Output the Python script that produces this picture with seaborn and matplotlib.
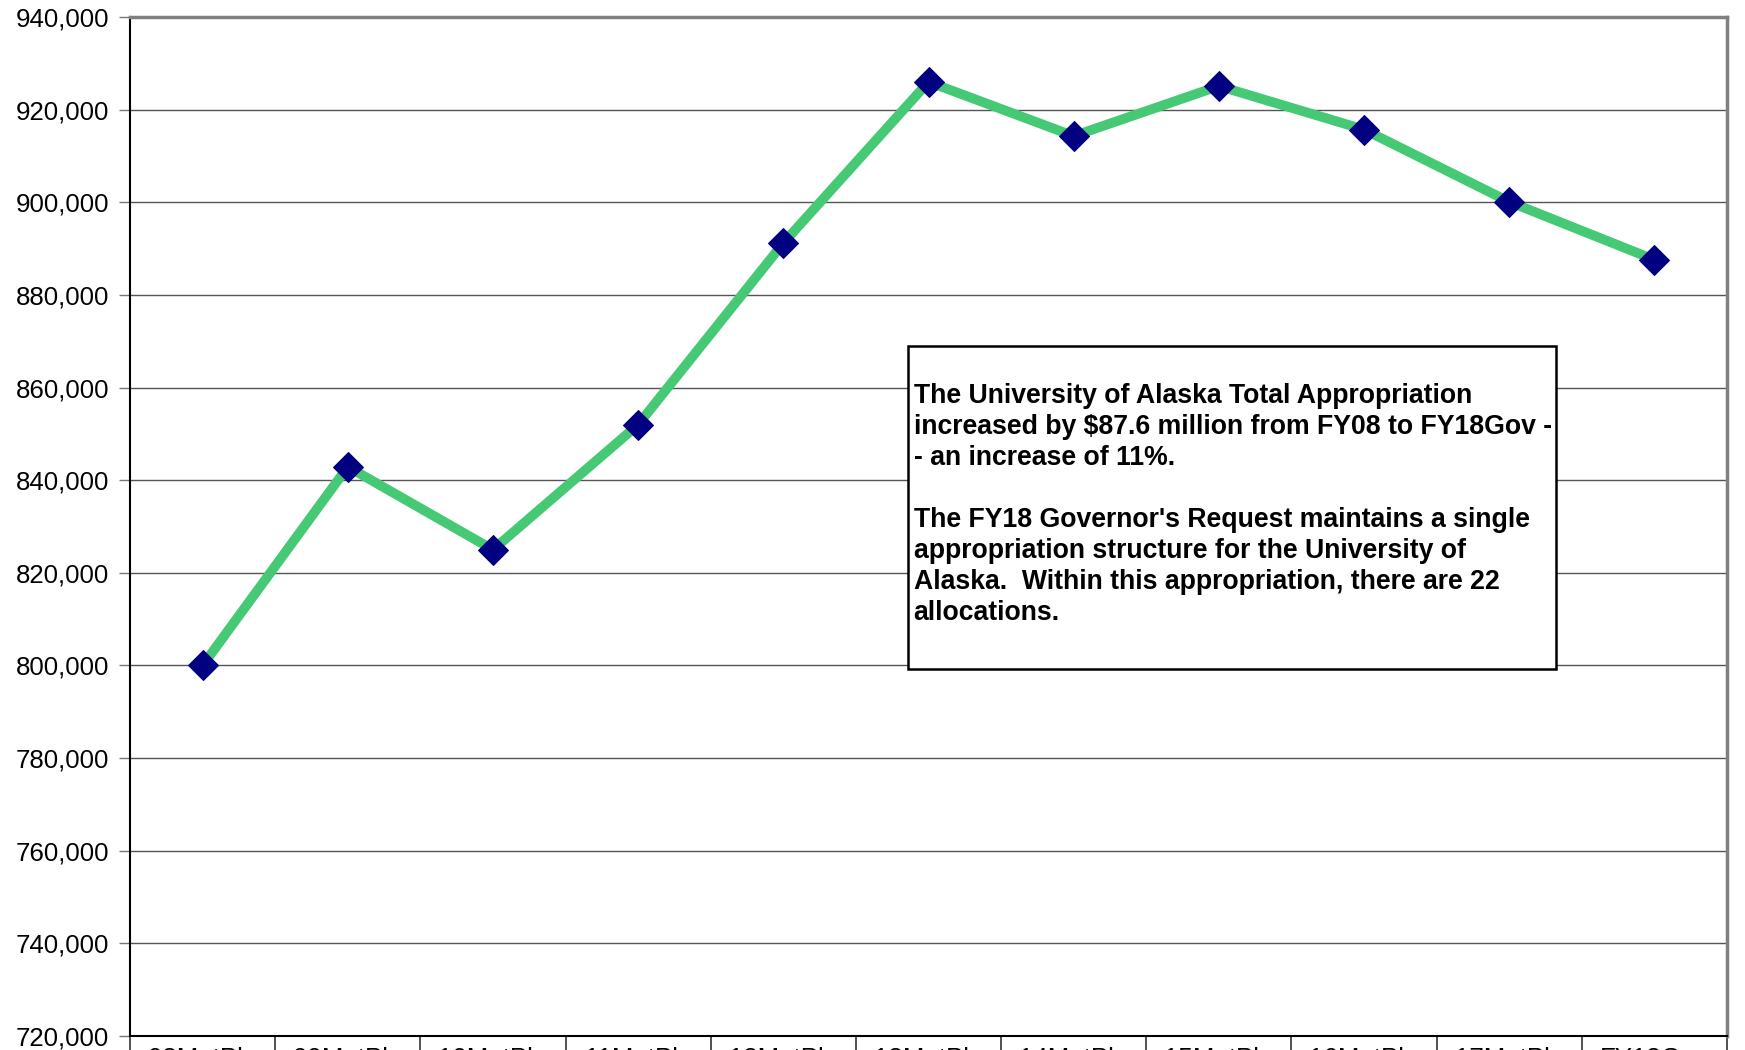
import numpy as np
import pandas as pd
import matplotlib.pyplot as plt
import seaborn as sns
from matplotlib.patches import Rectangle
from matplotlib.ticker import FuncFormatter, FixedLocator

# data
years = ["08MgtPln", "09MgtPln", "10MgtPln", "11MgtPln", "12MgtPln", "13MgtPln",
         "14MgtPln", "15MgtPln", "16MgtPln", "17MgtPln", "FY18Gov"]
appropriation = [800000, 842900, 825000, 852000, 891200, 926000,
                 914300, 925100, 915700, 900100, 887600]

note = ("The University of Alaska Total Appropriation\n"
        "increased by $87.6 million from FY08 to FY18Gov -\n"
        "- an increase of 11%.\n"
        "\n"
        "The FY18 Governor's Request maintains a single\n"
        "appropriation structure for the University of\n"
        "Alaska.  Within this appropriation, there are 22\n"
        "allocations.")

sns.set_style("white")
plt.rcParams['font.family'] = ['Liberation Sans', 'DejaVu Sans']
plt.rcParams['text.color'] = 'black'
plt.rcParams['xtick.labelcolor'] = 'black'
plt.rcParams['ytick.labelcolor'] = 'black'

df = pd.DataFrame({'pos': np.arange(len(years)), 'year': years, 'value': appropriation})

fig = plt.figure(figsize=(17.45, 10.5), dpi=100)
ax = fig.add_axes([0.0745, 0.0133, 0.9152, 0.9705])

sns.lineplot(data=df, x='pos', y='value', ax=ax, color='#45c974', linewidth=7,
             marker='D', markersize=15, markerfacecolor='#000080',
             markeredgecolor='#000080', zorder=3)

ax.set_xlim(-0.5, len(years) - 0.5)
ax.set_ylim(720000, 940000)
ax.set_yticks(np.arange(720000, 940001, 20000))
ax.yaxis.set_major_formatter(FuncFormatter(lambda v, p: f"{int(v):,}"))
ax.grid(axis='y', color='#555555', linewidth=1)
ax.set_axisbelow(True)

# category labels in the middle, boundary ticks between them
ax.xaxis.set_major_locator(FixedLocator(np.arange(-0.5, len(years), 1)))
ax.xaxis.set_minor_locator(FixedLocator(df['pos']))
ax.set_xticklabels([''] * (len(years) + 1))
ax.set_xticklabels(years, minor=True)
ax.tick_params(axis='x', which='major', direction='out', length=20, width=1.2, color='#333333', bottom=True)
ax.tick_params(axis='x', which='minor', length=0, pad=8, labelsize=18.6, labelcolor='black')
ax.tick_params(axis='y', direction='out', length=8, width=1, color='#777777', left=True,
               labelsize=18.6, pad=7, labelcolor='black')

ax.set_xlabel('')
ax.set_ylabel('')

for side in ['left', 'bottom']:
    ax.spines[side].set_color('black')
    ax.spines[side].set_linewidth(1.5)
for side in ['top', 'right']:
    ax.spines[side].set_color('#808080')
    ax.spines[side].set_linewidth(2.5)

fig.add_artist(Rectangle((0.5203, 0.3629), 0.3713, 0.3076, transform=fig.transFigure,
                         facecolor='white', edgecolor='black', linewidth=1.8, zorder=5))
fig.text(0.5235, 0.635, note, ha='left', va='top', fontsize=19.2, fontweight='bold',
         linespacing=1.25, color='black', zorder=6)

fig.savefig('out.png', dpi=100)
